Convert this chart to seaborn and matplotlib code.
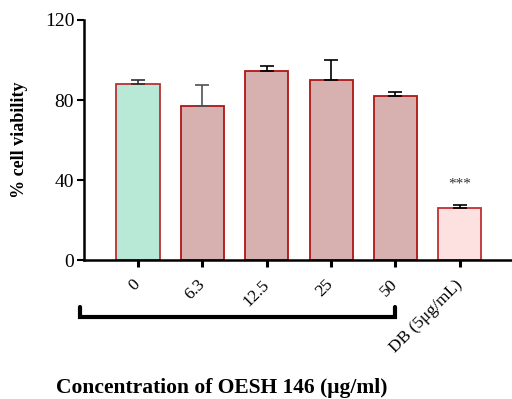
import matplotlib
matplotlib.use("Agg")
import matplotlib.pyplot as plt
import seaborn as sns
import pandas as pd

# Cell viability after treatment with OESH 146 extract and DB control
groups = ["0", "6.3", "12.5", "25", "50", "DB (5μg/mL)"]
viability = [88.0, 77.0, 94.7, 89.8, 82.2, 26.2]
sem = [2.0, 10.7, 2.5, 10.2, 2.0, 1.5]
fill_colors = ["#b8e8d6", "#d6b1b0", "#d6b1b0", "#d6b1b0", "#d6b1b0", "#fde0e0"]
edge_colors = ["#b83232", "#b01515", "#b01515", "#b01515", "#b01515", "#c03030"]
err_colors = ["#303030", "#505050", "#000000", "#000000", "#000000", "#000000"]
y_ticks = [0, 40, 80, 120]
signif_label = "***"
signif_height = 38.0

sns.set_theme(style="ticks")
plt.rcParams["font.family"] = ["Liberation Serif", "DejaVu Serif"]
plt.rcParams["text.color"] = "black"
plt.rcParams["axes.labelcolor"] = "black"
plt.rcParams["xtick.color"] = "black"
plt.rcParams["ytick.color"] = "black"

df = pd.DataFrame({"group": groups, "viability": viability})

fig = plt.figure(figsize=(5.12, 3.99), dpi=100)
ax = fig.add_axes([0.164, 0.348, 0.836, 0.602])

sns.barplot(data=df, x="group", y="viability", hue="group", palette=fill_colors,
            saturation=1, legend=False, width=0.67, linewidth=1.3, ax=ax,
            errorbar=None)
for patch, ec in zip(ax.patches, edge_colors):
    patch.set_edgecolor(ec)

# upward-only error bars
for i, (v, e, c) in enumerate(zip(viability, sem, err_colors)):
    ax.errorbar(i, v, yerr=[[0], [e]], fmt="none", ecolor=c, elinewidth=1.2,
                capsize=5, capthick=1.2, zorder=1)

ax.text(5, signif_height, signif_label, ha="center", va="center", fontsize=11,
        color="#333333")

ax.set_ylim(0, 120)
ax.set_xlim(-0.84, 5.81)
ax.set_yticks(y_ticks)
ax.set_yticklabels([str(t) for t in y_ticks], fontsize=14)
ax.set_xticks(range(len(groups)))
ax.set_xticklabels(groups, fontsize=12.5, rotation=45, ha="right",
                   va="center", rotation_mode="anchor")
ax.tick_params(axis="x", length=5, width=2.2, pad=11, color="black")
ax.tick_params(axis="y", length=5, width=1.5, pad=2, color="black")

sns.despine(ax=ax)
for side in ("left", "bottom"):
    ax.spines[side].set_linewidth(1.8)
    ax.spines[side].set_color("black")

ax.set_xlabel("")
ax.set_ylabel("% cell viability", fontsize=13, fontweight="bold")
ax.yaxis.set_label_coords(-0.131, 0.5)

# bracket grouping the extract concentrations
bx0, bx1 = -0.9, 4.0
by, bh = -28.3, 5.0
ax.plot([bx0, bx0, bx1, bx1], [by + bh, by, by, by + bh], color="black",
        lw=3.0, clip_on=False, solid_joinstyle="miter")

fig.text(0.434, 0.014, "Concentration of OESH 146 (μg/ml)", ha="center",
         va="baseline", fontsize=15.5, fontweight="bold")

fig.savefig("out.png", dpi=100)
